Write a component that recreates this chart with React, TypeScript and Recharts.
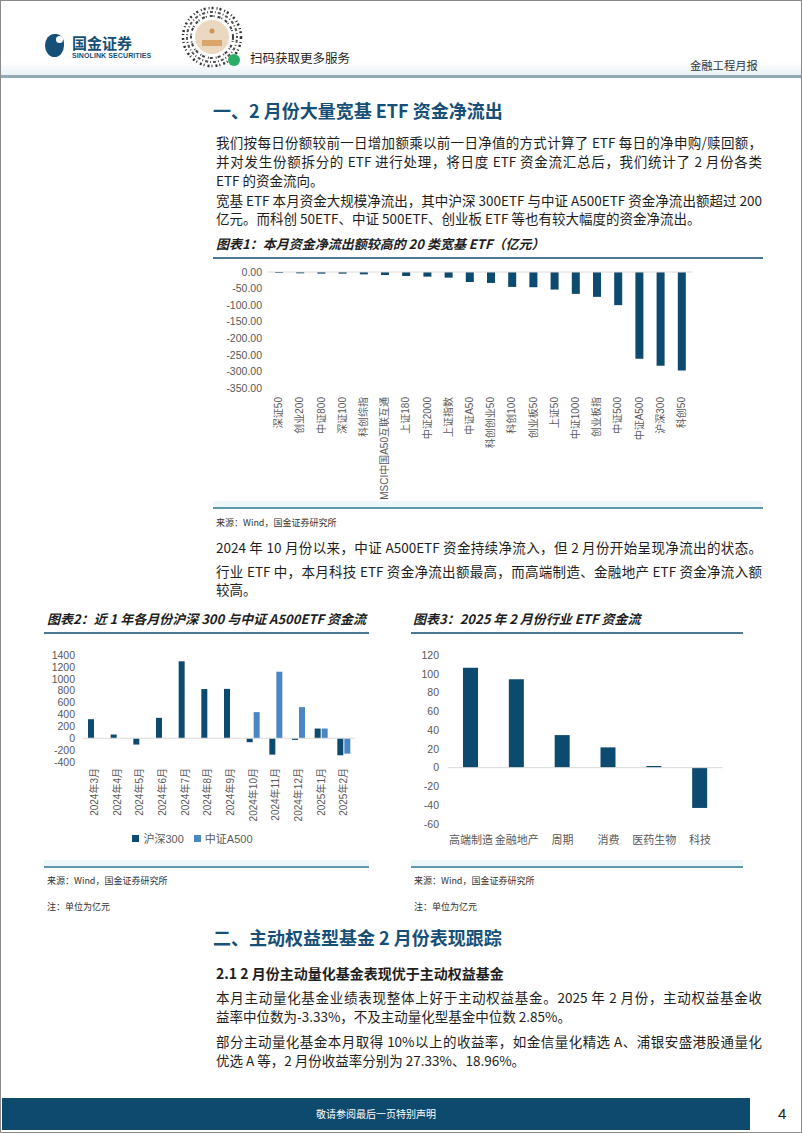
import { BarChart, Bar, XAxis, YAxis, ReferenceLine, Legend } from 'recharts'

// 图表1
const broadNames = [
  '深证50', '创业200', '中证800', '深证100', '科创综指', 'MSCI中国A50互联互通', '上证180', '中证2000',
  '上证指数', '中证A50', '科创创业50', '科创100', '创业板50', '上证50', '中证1000', '创业板指',
  '中证500', '中证A500', '沪深300', '科创50',
]
const broadFlow = [-3, -4, -5, -5, -7, -9, -12, -14, -17, -30, -33, -45, -46, -53, -66, -75, -100, -262, -283, -297]
const broadTicks = [0, -50, -100, -150, -200, -250, -300, -350]

// 图表2
const months = [
  '2024年3月', '2024年4月', '2024年5月', '2024年6月', '2024年7月', '2024年8月',
  '2024年9月', '2024年10月', '2024年11月', '2024年12月', '2025年1月', '2025年2月',
]
const hs300 = [320, 62, -107, 343, 1294, 827, 830, -67, -276, -28, 163, -287]
const a500 = [null, null, null, null, null, null, null, 439, 1119, 523, 163, -259]
const monthTicks = [1400, 1200, 1000, 800, 600, 400, 200, 0, -200, -400]

// 图表3
const industries = ['高端制造', '金融地产', '周期', '消费', '医药生物', '科技']
const industryFlow = [106.3, 94.3, 34.7, 21.6, 1.8, -42.9]
const industryTicks = [120, 100, 80, 60, 40, 20, 0, -20, -40, -60]

const DARK = '#0d4a6f'
const LIGHT = '#4a86c4'
const AXIS_TEXT = '#595959'
const HEAD_BLUE = '#164f77'
const CJK = '"Noto Sans CJK SC", sans-serif'
const CHART_FONT = '"Liberation Sans", "Noto Sans CJK SC", sans-serif'

const broadData = broadNames.map((name, i) => ({ name, v: broadFlow[i] }))
const monthData = months.map((m, i) => ({ m, hs: hs300[i], a5: a500[i] }))
const industryData = industries.map((n, i) => ({ n, v: industryFlow[i] }))

function VTick(props: any) {
  const { x, y, payload } = props
  return (
    <text x={x} y={y} transform={`rotate(-90 ${x} ${y})`} textAnchor="end" dominantBaseline="central"
      fontSize={10} fill={AXIS_TEXT}>
      {payload.value}
    </text>
  )
}

function T({ x, y, size = 13.5, w, children, bold, italic, color = '#1e1e1e', justify }: any) {
  return (
    <div style={{
      position: 'absolute', left: x, top: y - size / 2 - 1, width: w, fontSize: size, lineHeight: `${size + 2}px`,
      fontFamily: CJK, fontWeight: bold ? 700 : 400, fontStyle: italic ? 'italic' : 'normal', color,
      whiteSpace: 'nowrap', textAlign: justify ? 'justify' : 'left', textAlignLast: justify ? 'justify' : 'auto',
    } as any}>
      {children}
    </div>
  )
}

function Rule({ x, y, w, color, h = 1.5 }: any) {
  return <div style={{ position: 'absolute', left: x, top: y, width: w, height: h, background: color }} />
}

function Qr() {
  return (
    <svg width={66} height={66} style={{ position: 'absolute', left: 179, top: 4 }}>
      <circle cx={33} cy={33} r={29} fill="none" stroke="#333" strokeWidth={2.5} strokeDasharray="2 3 1 2" />
      <circle cx={33} cy={33} r={25} fill="none" stroke="#555" strokeWidth={2} strokeDasharray="1 2 3 2" />
      <circle cx={33} cy={33} r={21} fill="none" stroke="#444" strokeWidth={2} strokeDasharray="3 1 1 3" />
      <circle cx={33} cy={33} r={17} fill="#ead8c0" />
      <circle cx={33} cy={27} r={2.5} fill="#c8955a" />
      <rect x={23} y={36} width={20} height={6} fill="#d9a56a" />
      <circle cx={55} cy={56} r={6} fill="#2aae67" />
    </svg>
  )
}

export default function App() {
  return (
    <div style={{ position: 'absolute', left: 0, top: 0, width: 802, height: 1133, background: '#fff', overflow: 'hidden' }}>
      {/* page frame */}
      <div style={{ position: 'absolute', left: 0, top: 0, width: 800, height: 1131, border: '1px solid #8a8a8a' }} />
      <div style={{ position: 'absolute', left: 1, top: 62, width: 800, height: 13, background: 'linear-gradient(#ffffff, #e8f1f6)' }} />
      <Rule x={1} y={75} w={800} h={2.5} color="#93a9b6" />

      {/* header */}
      <div style={{ position: 'absolute', left: 45, top: 34, width: 19, height: 23, borderRadius: '50% 40% 50% 50%', background: HEAD_BLUE }} />
      <div style={{ position: 'absolute', left: 56, top: 36, width: 7, height: 7, borderRadius: '50%', background: '#fff' }} />
      <T x={72} y={42} size={15} bold color={HEAD_BLUE}>国金证券</T>
      <div style={{ position: 'absolute', left: 72, top: 52, fontSize: 7, lineHeight: '8px', fontWeight: 700, fontFamily: '"Liberation Sans", sans-serif', color: HEAD_BLUE, letterSpacing: 0.1 }}>SINOLINK SECURITIES</div>
      <Qr />
      <T x={250} y={58} size={12.5}>扫码获取更多服务</T>
      <T x={690} y={66} size={11.3} color="#333">金融工程月报</T>

      {/* section 1 */}
      <T x={213} y={110} size={18} bold color={HEAD_BLUE}>一、2 月份大量宽基 ETF 资金净流出</T>
      <T x={216} y={143} w={546} justify>我们按每日份额较前一日增加额乘以前一日净值的方式计算了 ETF 每日的净申购/赎回额，</T>
      <T x={216} y={162} w={546} justify>并对发生份额拆分的 ETF 进行处理，将日度 ETF 资金流汇总后，我们统计了 2 月份各类</T>
      <T x={216} y={181}>ETF 的资金流向。</T>
      <T x={216} y={201} w={546} justify>宽基 ETF 本月资金大规模净流出，其中沪深 300ETF 与中证 A500ETF 资金净流出额超过 200</T>
      <T x={216} y={219}>亿元。而科创 50ETF、中证 500ETF、创业板 ETF 等也有较大幅度的资金净流出。</T>
      <T x={216} y={243} size={13} bold italic>图表1：本月资金净流出额较高的 20 类宽基 ETF（亿元）</T>
      <Rule x={213} y={257} w={550} color="#4c7893" />

      <div style={{ position: 'absolute', left: 210, top: 262, fontFamily: CHART_FONT }}>
        <BarChart width={482} height={241} data={broadData} margin={{ top: 10, right: 0, bottom: 0, left: 0 }} barSize={8}>
          <XAxis dataKey="name" interval={0} height={115} tick={<VTick />} tickLine={false} axisLine={false}
            tickSize={0} tickMargin={9} />
          <YAxis domain={[-350, 0]} ticks={broadTicks} interval={0} width={58} tickSize={0} tickMargin={6} axisLine={false}
            tickLine={false} tick={{ fontSize: 10.5, fill: AXIS_TEXT }} tickFormatter={(v) => v.toFixed(2)} />
          <ReferenceLine y={0} stroke="#e0d6d6" />
          <Bar dataKey="v" fill={DARK} isAnimationActive={false} />
        </BarChart>
      </div>
      <div style={{ position: 'absolute', left: 213, top: 501, width: 550, height: 6, background: '#eef7f9' }} />
      <Rule x={213} y={507} w={550} color="#5f9aab" />
      <T x={216} y={522} size={9} color="#333">来源：Wind，国金证券研究所</T>

      <T x={216} y={548} w={546} justify>2024 年 10 月份以来，中证 A500ETF 资金持续净流入，但 2 月份开始呈现净流出的状态。</T>
      <T x={216} y={572} w={546} justify>行业 ETF 中，本月科技 ETF 资金净流出额最高，而高端制造、金融地产 ETF 资金净流入额</T>
      <T x={216} y={590}>较高。</T>

      {/* charts 2 & 3 */}
      <T x={47} y={618} size={13} bold italic>图表2：近 1 年各月份沪深 300 与中证 A500ETF 资金流</T>
      <T x={413} y={618} size={13} bold italic>图表3：2025 年 2 月份行业 ETF 资金流</T>
      <Rule x={44} y={632} w={325} color="#4c7893" />
      <Rule x={411} y={632} w={332} color="#4c7893" />

      <div style={{ position: 'absolute', left: 40, top: 645, fontFamily: CHART_FONT }}>
        <BarChart width={318} height={209} data={monthData} margin={{ top: 10, right: 3, bottom: 5, left: 0 }}
          barSize={6} barGap={1}>
          <XAxis dataKey="m" interval={0} height={67} tick={<VTick />} tickLine={false} axisLine={false}
            tickSize={0} tickMargin={6} />
          <YAxis domain={[-400, 1400]} ticks={monthTicks} interval={0} width={43} tickSize={0} tickMargin={8} axisLine={false}
            tickLine={false} tick={{ fontSize: 10.5, fill: AXIS_TEXT }} />
          <ReferenceLine y={0} stroke="#d9d9d9" />
          <Legend verticalAlign="bottom" height={20} iconType="square" iconSize={7}
            itemSorter={(item: any) => (item.dataKey === 'hs' ? 0 : 1)}
            formatter={(value) => <span style={{ color: AXIS_TEXT, fontSize: 11 }}>{value}</span>} />
          <Bar dataKey="hs" name="沪深300" fill={DARK} isAnimationActive={false} />
          <Bar dataKey="a5" name="中证A500" fill={LIGHT} isAnimationActive={false} />
        </BarChart>
      </div>

      <div style={{ position: 'absolute', left: 410, top: 645, fontFamily: CHART_FONT }}>
        <BarChart width={313} height={205} data={industryData} margin={{ top: 10, right: 0, bottom: 0, left: 0 }}
          barSize={15}>
          <XAxis dataKey="n" interval={0} height={26} tickLine={false} axisLine={false} tickSize={0} tickMargin={12}
            tick={{ fontSize: 11, fill: AXIS_TEXT }} />
          <YAxis domain={[-60, 120]} ticks={industryTicks} interval={0} width={38} tickSize={0} tickMargin={9} axisLine={false}
            tickLine={false} tick={{ fontSize: 10.5, fill: AXIS_TEXT }} />
          <ReferenceLine y={0} stroke="#d9d9d9" />
          <Bar dataKey="v" fill={DARK} isAnimationActive={false} />
        </BarChart>
      </div>

      <div style={{ position: 'absolute', left: 44, top: 860, width: 325, height: 6, background: '#eef7f9' }} />
      <div style={{ position: 'absolute', left: 411, top: 860, width: 332, height: 6, background: '#eef7f9' }} />
      <Rule x={44} y={866} w={325} color="#5f9aab" />
      <Rule x={411} y={866} w={332} color="#5f9aab" />
      <T x={47} y={880} size={9} color="#333">来源：Wind，国金证券研究所</T>
      <T x={414} y={880} size={9} color="#333">来源：Wind，国金证券研究所</T>
      <T x={47} y={906} size={9} color="#333">注：单位为亿元</T>
      <T x={414} y={906} size={9} color="#333">注：单位为亿元</T>

      {/* section 2 */}
      <T x={213} y={937} size={18} bold color={HEAD_BLUE}>二、主动权益型基金 2 月份表现跟踪</T>
      <T x={216} y={973} size={14} bold>2.1 2 月份主动量化基金表现优于主动权益基金</T>
      <T x={216} y={998} w={546} justify>本月主动量化基金业绩表现整体上好于主动权益基金。2025 年 2 月份，主动权益基金收</T>
      <T x={216} y={1017}>益率中位数为-3.33%，不及主动量化型基金中位数 2.85%。</T>
      <T x={216} y={1042} w={546} justify>部分主动量化基金本月取得 10%以上的收益率，如金信量化精选 A、浦银安盛港股通量化</T>
      <T x={216} y={1061}>优选 A 等，2 月份收益率分别为 27.33%、18.96%。</T>

      {/* footer */}
      <div style={{ position: 'absolute', left: 2, top: 1098, width: 748, height: 32, background: '#0d4a6e' }} />
      <T x={316} y={1114} size={10} color="#fff">敬请参阅最后一页特别声明</T>
      <div style={{ position: 'absolute', left: 778, top: 1105, fontSize: 15, fontFamily: '"Liberation Sans", sans-serif', color: '#222' }}>4</div>
    </div>
  )
}
